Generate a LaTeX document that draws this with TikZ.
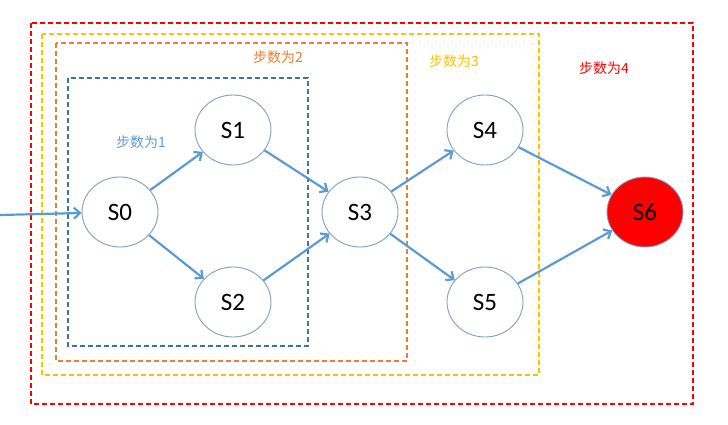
\documentclass[tikz,border=0pt]{standalone}
\usepackage{fontspec}
\setmainfont{Carlito}
\newfontfamily\cjk{Noto Sans CJK SC}
\usetikzlibrary{arrows.meta, positioning, shapes.geometric}
\definecolor{stepblue}{HTML}{5B9BD5}
\definecolor{stepnavy}{HTML}{41719C}
\definecolor{steporange}{HTML}{ED7D31}
\definecolor{stepgold}{HTML}{FFC000}
\definecolor{stepred}{HTML}{FF0000}
\definecolor{stateline}{HTML}{7F9FC4}
\tikzset{
  >={Straight Barb[length=6pt, width=11pt]},
  state/.style={ellipse, draw=stateline, line width=0.9pt, fill=white,
                minimum width=76pt, minimum height=70pt, inner sep=0pt,
                font=\fontsize{25}{25}\selectfont},
  goal/.style={state, fill=stepred},
  flow/.style={->, line width=2.2pt, draw=stepblue},
  frame/.style={dash pattern=on 5pt off 3pt, line width=1.6pt},
  lbl/.style={font=\cjk\fontsize{14}{14}\selectfont},
}

\begin{document}
\begin{tikzpicture}[x=1pt, y=-1pt]
  \useasboundingbox (0,0) rectangle (728,425);
  % step frames
  \draw[frame, stepred]    (31,23) rectangle (693,404);
  \draw[frame, stepgold]   (42,34) rectangle (539,375);
  \draw[frame, steporange] (56,43) rectangle (407,361);
  \draw[frame, stepnavy]   (68,78) rectangle (308,346);
  \node[lbl, text=stepblue]   (lbl1) at (141,142) {步数为1};
  \node[lbl, text=steporange] (lbl2) at (278,57)  {步数为2};
  \node[lbl, text=stepgold]   (lbl3) at (454,61)  {步数为3};
  \node[lbl, text=stepred]    (lbl4) at (604,68)  {步数为4};
  % states
  \node[state] (S0) at (120,212) {S0};
  \node[state] (S1) at (233,130) {S1};
  \node[state] (S2) at (233,302) {S2};
  \node[state] (S3) at (360,212) {S3};
  \node[state] (S4) at (485,130) {S4};
  \node[state] (S5) at (485,302) {S5};
  \node[goal]  (S6) at (645,212) {S6};
  \coordinate (start) at (0,215);
  \draw[flow] (start) -- (S0);
  \draw[flow] (S0) -- (S1);
  \draw[flow] (S0) -- (S2);
  \draw[flow] (S1) -- (S3);
  \draw[flow] (S2) -- (S3);
  \draw[flow] (S3) -- (S4);
  \draw[flow] (S3) -- (S5);
  \draw[flow] (S4) -- (S6);
  \draw[flow] (S5) -- (S6);
\end{tikzpicture}
\end{document}
